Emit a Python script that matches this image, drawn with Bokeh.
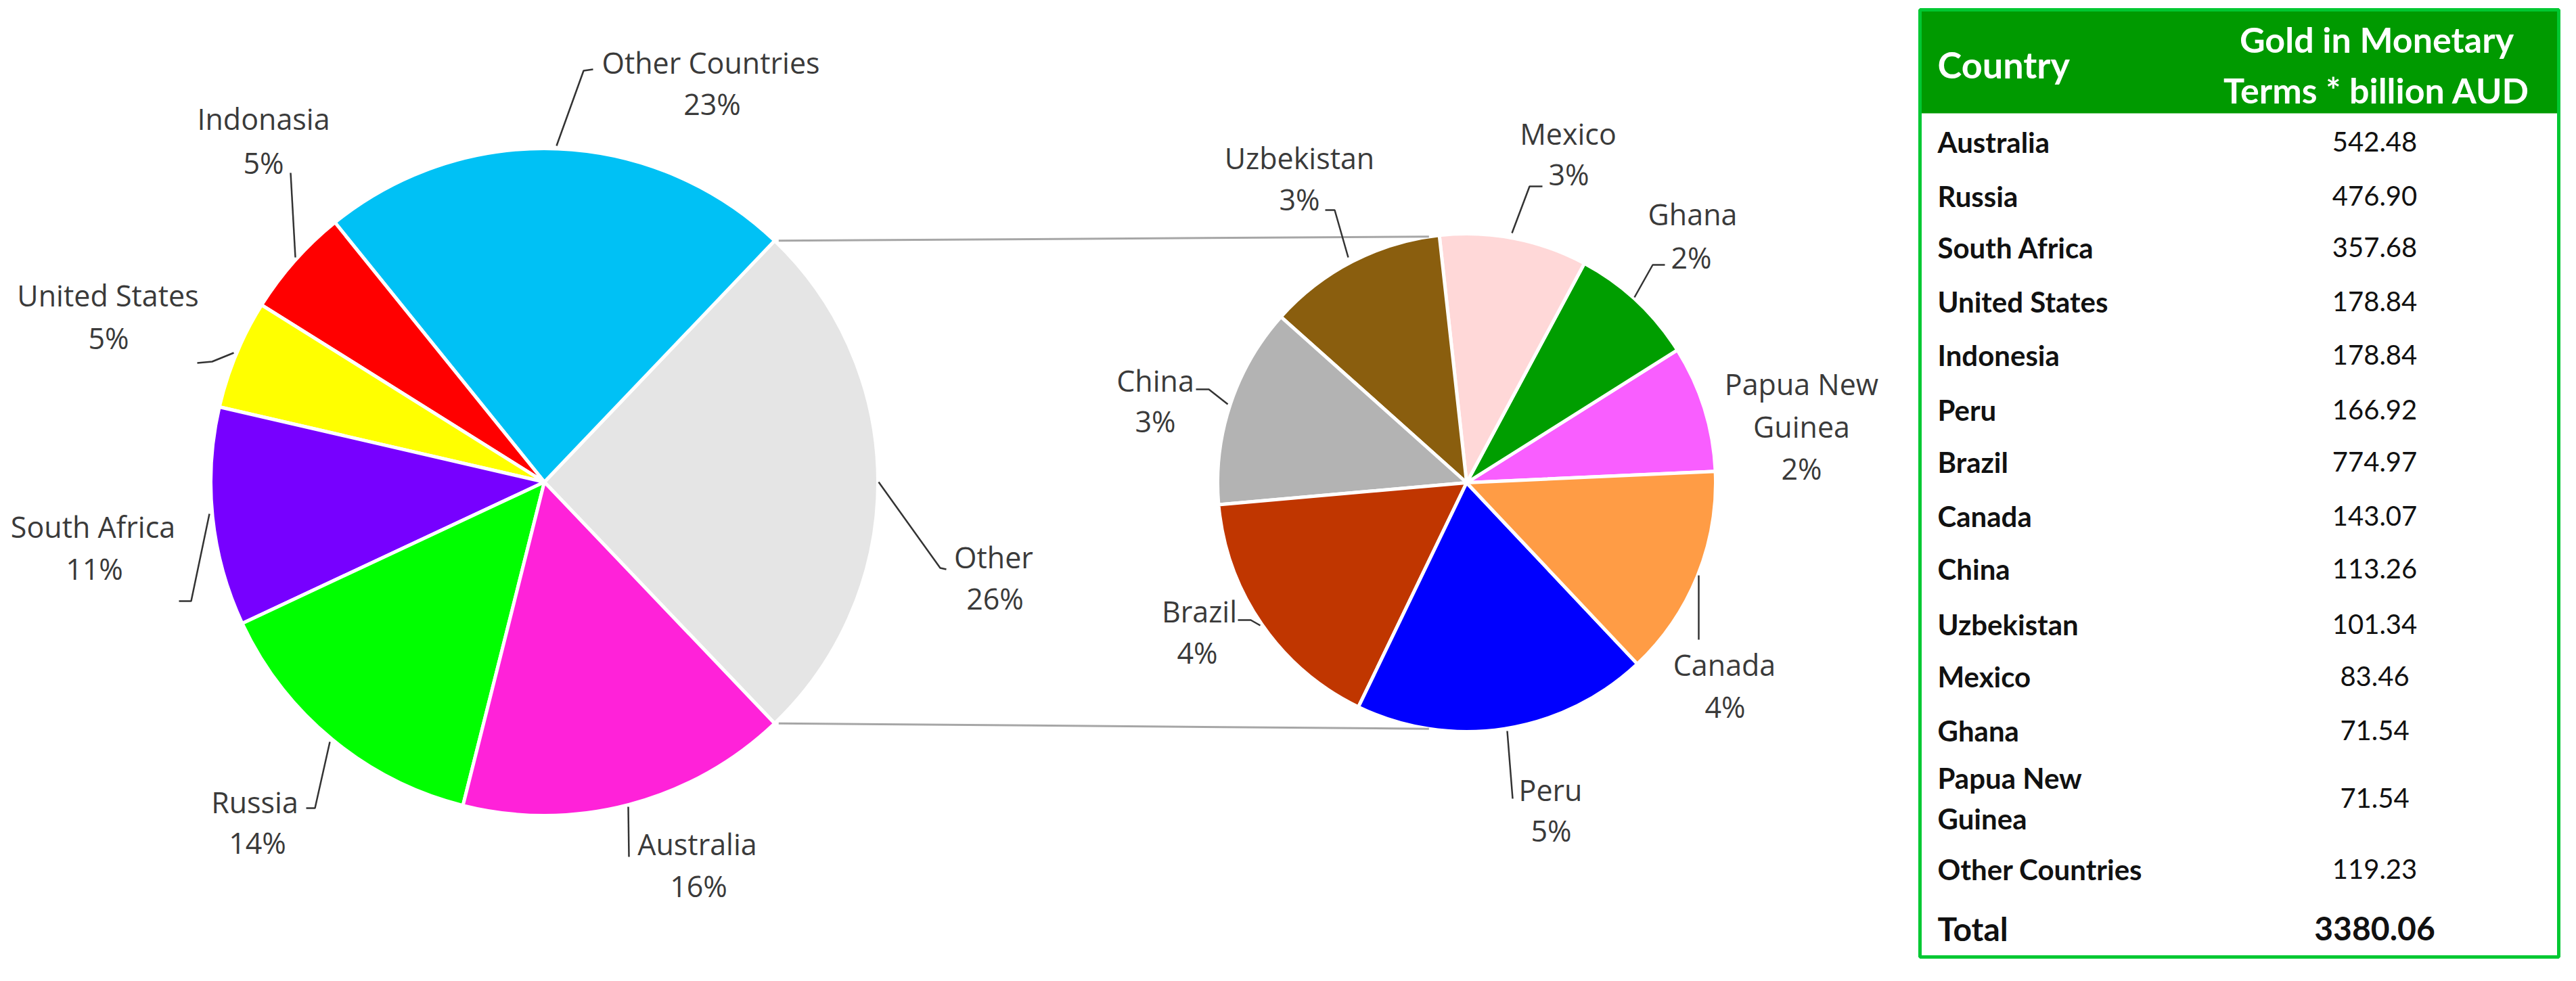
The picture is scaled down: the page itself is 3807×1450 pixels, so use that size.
import math
from bokeh.plotting import figure
from bokeh.models import Range1d, ColumnDataSource
from bokeh.core.properties import value
from bokeh.embed import file_html
from bokeh.resources import INLINE

# ---------------- data ----------------
# main pie (counter-clockwise from the "Other" slice, which faces the secondary pie)
main_labels = ["Other", "Other Countries", "Indonasia", "United States", "South Africa", "Russia", "Australia"]
main_country_values = [774.97, 178.84, 178.84, 357.68, 476.90, 542.48]   # all but "Other"
main_pct = ["26%", "23%", "5%", "5%", "11%", "14%", "16%"]
main_colors = ["#E5E5E5", "#00C1F5", "#FF0000", "#FFFF00", "#7700FF", "#00FF00", "#FF22D9"]

# secondary pie (breakdown of "Other"), counter-clockwise
sec_labels = ["Papua New\nGuinea", "Ghana", "Mexico", "Uzbekistan", "China", "Brazil", "Peru", "Canada"]
sec_values = [71.54, 71.54, 83.46, 101.34, 113.26, 143.07, 166.92, 119.23]
sec_pct = ["2%", "2%", "3%", "3%", "3%", "4%", "5%", "4%"]
sec_colors = ["#F95EFF", "#009E00", "#FFD8D8", "#8A5E0E", "#B3B3B3", "#C03600", "#0000FF", "#FF9C45"]

main_values = [sum(sec_values)] + main_country_values

# table
table_header_1 = "Country"
table_header_2 = ["Gold in Monetary", "Terms * billion AUD"]
table_countries = ["Australia", "Russia", "South Africa", "United States", "Indonesia", "Peru",
                   "Brazil", "Canada", "China", "Uzbekistan", "Mexico", "Ghana",
                   "Papua New\nGuinea", "Other Countries"]
table_values = ["542.48", "476.90", "357.68", "178.84", "178.84", "166.92", "774.97",
                "143.07", "113.26", "101.34", "83.46", "71.54", "71.54", "119.23"]
table_total_label = "Total"
table_total_value = "3380.06"

# ---------------- layout ----------------
W, H = 3790, 1434


def Y(y):
    return 1450 - y


LABEL_FONT = value("Open Sans")
TABLE_FONT = value("Lato")
LABEL_COLOR = "#3A3A3A"

p = figure(width=W, height=H, x_range=Range1d(8, 8 + W), y_range=Range1d(8, 8 + H),
           output_backend="svg", toolbar_location=None, min_border=0)
p.axis.visible = False
p.grid.visible = False
p.outline_line_color = None
p.background_fill_color = "white"
p.border_fill_color = "white"


def pie(cx, cy, r, values, colors, start):
    total = sum(values)
    starts, ends = [], []
    a = start
    for v in values:
        starts.append(a)
        a += v / total * 2 * math.pi
        ends.append(a)
    src = ColumnDataSource(dict(x=[cx] * len(values), y=[Y(cy)] * len(values),
                                s=starts, e=ends, c=colors))
    p.wedge(x="x", y="y", radius=r, start_angle="s", end_angle="e", direction="anticlock",
            fill_color="c", line_color="white", line_width=5, source=src)
    return starts, ends


# main pie
mcx, mcy, mr = 812, 720, 493
half = main_values[0] / sum(main_values) * math.pi
pie(mcx, mcy, mr, main_values, main_colors, -half)

# secondary pie
scx, scy, sr = 2175, 721, 368
pie(scx, scy, sr, sec_values, sec_colors, math.radians(2.6))

# connector lines between the pies
ang2 = math.radians(98.7)
p.multi_line(
    xs=[[mcx + mr * math.cos(half) + 6, scx + sr * math.cos(ang2)],
        [mcx + mr * math.cos(-half) + 6, scx + sr * math.cos(-ang2)]],
    ys=[[Y(mcy - mr * math.sin(half)), Y(scy - sr * math.sin(ang2))],
        [Y(mcy - mr * math.sin(-half)), Y(scy - sr * math.sin(-ang2))]],
    line_color="#A6A6A6", line_width=3)

# label positions (name centre, pct centre) in page pixels
main_label_pos = {
    "Other": (1476, 831, 1478, 892),
    "Other Countries": (1058, 100, 1060, 161),
    "Indonasia": (397, 183, 397, 248),
    "United States": (167, 444, 168, 507),
    "South Africa": (145, 786, 147, 848),
    "Russia": (384, 1193, 388, 1253),
    "Australia": (1038, 1255, 1040, 1317),
}
sec_label_pos = {
    "Papua New\nGuinea": (2670, 575, 2670, 700),
    "Ghana": (2509, 324, 2507, 388),
    "Mexico": (2325, 205, 2326, 265),
    "Uzbekistan": (1928, 241, 1928, 302),
    "China": (1715, 570, 1715, 630),
    "Brazil": (1780, 911, 1777, 972),
    "Peru": (2299, 1175, 2300, 1235),
    "Canada": (2556, 990, 2557, 1052),
}
leaders = [
    [(830, 223), (870, 112), (884, 110)],
    [(437, 263), (444, 388)],
    [(299, 544), (321, 542), (353, 529)],
    [(272, 896), (290, 896), (317, 767)],
    [(460, 1202), (473, 1202), (495, 1104)],
    [(937, 1274), (936, 1200)],
    [(1306, 720), (1397, 847), (1406, 849)],
    [(1966, 318), (1980, 318), (2000, 388)],
    [(1775, 583), (1794, 583), (1822, 605)],
    [(1837, 924), (1856, 924), (1870, 932)],
    [(2287, 283), (2268, 283), (2242, 352)],
    [(2468, 399), (2450, 399), (2423, 447)],
    [(2518, 858), (2518, 953)],
    [(2235, 1088), (2243, 1188)],
]
p.multi_line(xs=[[pt[0] for pt in l] for l in leaders],
             ys=[[Y(pt[1]) for pt in l] for l in leaders],
             line_color="#333333", line_width=2.5)

lx, ly, lt = [], [], []
for labels, pcts, pos in ((main_labels, main_pct, main_label_pos), (sec_labels, sec_pct, sec_label_pos)):
    for name, pct in zip(labels, pcts):
        nx, ny, px_, py_ = pos[name]
        for i, line in enumerate(name.split("\n")):
            lx.append(nx); ly.append(Y(ny + i * 63)); lt.append(line)
        lx.append(px_); ly.append(Y(py_)); lt.append(pct)
p.text(x=lx, y=ly, text=lt, text_font=LABEL_FONT, text_font_size="43px",
       text_align="center", text_baseline="middle", text_color=LABEL_COLOR)

# ---------------- table ----------------
tl, tr, tt, tb, th = 2845, 3789, 22, 1422, 175
p.quad(left=[tl], right=[tr], top=[Y(tt)], bottom=[Y(th)], fill_color="#009A00", line_color=None)
p.quad(left=[tl], right=[tr], top=[Y(tt)], bottom=[Y(tb)], fill_color=None,
       line_color="#00C832", line_width=5)

p.text(x=[2871], y=[Y(103)], text=[table_header_1], text_font=TABLE_FONT, text_font_size="54px",
       text_font_style="bold", text_color="white", text_align="left", text_baseline="middle")
p.text(x=[3520, 3520], y=[Y(65), Y(140)], text=table_header_2, text_font=TABLE_FONT,
       text_font_size="52px", text_font_style="bold", text_color="white",
       text_align="center", text_baseline="middle")

row_y = [217, 297, 373, 453, 532, 613, 690, 770, 848, 930, 1007, 1087, 1187, 1292]
nx_, ny_, nt_ = [], [], []
for name, yy in zip(table_countries, row_y):
    parts = name.split("\n")
    off = -(len(parts) - 1) * 30
    for i, part in enumerate(parts):
        nx_.append(2871); ny_.append(Y(yy + off + i * 60)); nt_.append(part)
p.text(x=nx_, y=ny_, text=nt_, text_font=TABLE_FONT, text_font_size="42px",
       text_font_style="bold", text_color="#111111", text_align="left", text_baseline="middle")
p.text(x=[3517] * len(table_values), y=[Y(v) for v in row_y], text=table_values,
       text_font=TABLE_FONT, text_font_size="40px", text_color="#111111",
       text_align="center", text_baseline="middle")
p.text(x=[2871], y=[Y(1380)], text=[table_total_label], text_font=TABLE_FONT, text_font_size="48px",
       text_font_style="bold", text_color="#111111", text_align="left", text_baseline="middle")
p.text(x=[3517], y=[Y(1380)], text=[table_total_value], text_font=TABLE_FONT, text_font_size="48px",
       text_font_style="bold", text_color="#111111", text_align="center", text_baseline="middle")

open("out.html", "w").write(file_html(p, INLINE))
